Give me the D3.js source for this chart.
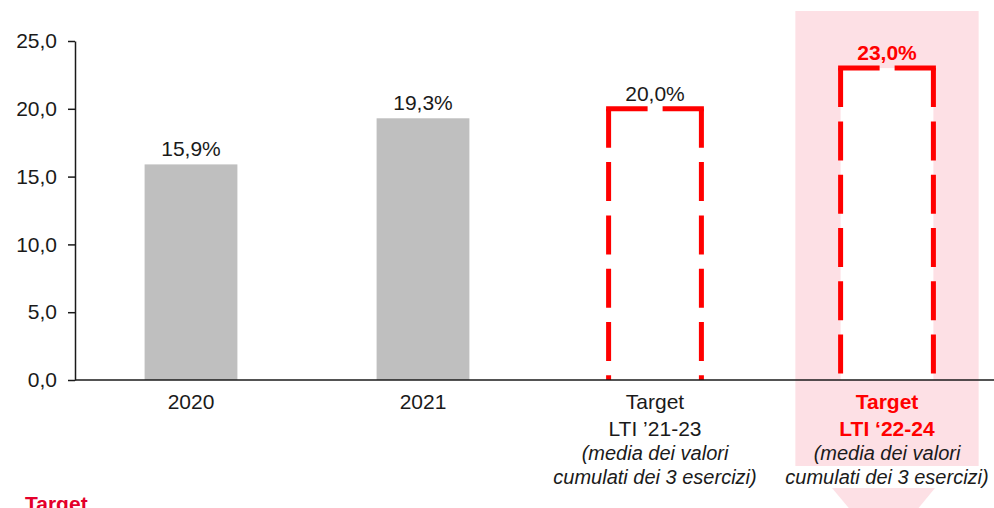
<!DOCTYPE html>
<html>
<head>
<meta charset="utf-8">
<script src="https://cdn.jsdelivr.net/npm/d3@7"></script>
<style>
  body { margin: 0; background: #fff; }
  svg { display: block; font-family: "Liberation Sans", Arial, sans-serif; }
</style>
</head>
<body>
<div id="chart"></div>
<script>
// data
const categories = ["2020", "2021", "target21", "target22"];
const values = [15.9, 19.3, 20.0, 23.0];
const isTarget = [false, false, true, true];
const labelMain = [["2020"], ["2021"], ["Target", "LTI \u201921-23"], ["Target", "LTI \u201822-24"]];
const labelNote = ["(media dei valori", "cumulati dei 3 esercizi)"];
const yTicks = [0, 5, 10, 15, 20, 25];

const width = 994, height = 508;
const red = "#ff0000";

const it = d3.formatLocale({decimal: ",", thousands: ".", grouping: [3], currency: ["€", ""]});
const fmt = it.format(".1f");

let svg = d3.select("#chart")
  .append("svg")
    .attr("width", width)
    .attr("height", height);

let x = d3.scaleBand()
  .domain(categories)
  .range([75, 1003])
  .paddingInner(0.6)
  .paddingOuter(0.3);

let y = d3.scaleLinear()
  .domain([0, 25])
  .range([380, 41]);

// pink highlight panel behind the last target
const hc = x(categories[3]) + x.bandwidth() / 2;
const hw = x.step() * 0.395;
svg.append("rect")
  .attr("x", hc - hw).attr("y", 11)
  .attr("width", hw * 2).attr("height", 455)
  .attr("fill", "#fde0e5");
svg.append("path")
  .attr("d", `M${hc - 55},488 L${hc + 48},488 L${hc - 3},550 Z`)
  .attr("fill", "#fde0e5");

// actual bars
svg.selectAll("rect.bar")
  .data(categories.filter((d, i) => !isTarget[i]))
  .enter()
  .append("rect")
    .attr("class", "bar")
    .attr("x", d => x(d))
    .attr("y", d => y(values[categories.indexOf(d)]))
    .attr("width", x.bandwidth())
    .attr("height", d => y(0) - y(values[categories.indexOf(d)]))
    .attr("fill", "#bfbfbf");

// target bars: white box with long-dash red outline (open at the bottom)
let targets = categories.filter((d, i) => isTarget[i]);
targets.forEach(d => {
  let v = values[categories.indexOf(d)];
  let x0 = x(d), x1 = x(d) + x.bandwidth(), top = y(v);
  svg.append("rect")
    .attr("x", x0).attr("y", top)
    .attr("width", x.bandwidth()).attr("height", y(0) - top)
    .attr("fill", "#fff");
  let g = svg.append("g")
    .attr("stroke", red)
    .attr("stroke-width", 5)
    .attr("fill", "none");
  [x0, x1].forEach(xx => {
    g.append("line")
      .attr("x1", xx).attr("x2", xx)
      .attr("y1", top).attr("y2", y(0))
      .attr("stroke-dasharray", "39,14.3");
  });
  // top edge also covers both corners
  g.append("line")
    .attr("x1", x0 - 2.5).attr("x2", x1 + 2.5)
    .attr("y1", top).attr("y2", top)
    .attr("stroke-dasharray", "41.5,15");
});

// axes
let yAxis = d3.axisLeft(y)
  .tickValues(yTicks)
  .tickFormat(fmt)
  .tickSize(7)
  .tickSizeOuter(0)
  .tickPadding(11);

let gy = svg.append("g")
  .attr("transform", "translate(75,0)")
  .call(yAxis);
gy.select(".domain").attr("stroke", "#1a1a1a").attr("stroke-width", 1.5);
gy.selectAll(".tick line").attr("stroke", "#1a1a1a").attr("stroke-width", 1.5);
gy.selectAll(".tick text")
  .attr("font-size", 21)
  .attr("font-family", "Liberation Sans, Arial, sans-serif")
  .attr("fill", "#1a1a1a");

svg.append("line")
  .attr("x1", 75).attr("x2", width)
  .attr("y1", y(0)).attr("y2", y(0))
  .attr("stroke", "#1a1a1a")
  .attr("stroke-width", 1.5);

// value labels
svg.selectAll("text.val")
  .data(categories)
  .enter()
  .append("text")
    .attr("class", "val")
    .attr("x", d => x(d) + x.bandwidth() / 2)
    .attr("y", (d, i) => y(values[i]) - 8)
    .attr("text-anchor", "middle")
    .attr("font-size", 21)
    .attr("font-weight", (d, i) => i === 3 ? "bold" : "normal")
    .attr("fill", (d, i) => i === 3 ? red : "#1a1a1a")
    .text((d, i) => fmt(values[i]) + "%");

// category labels
const lineY = [409, 436];
categories.forEach((d, i) => {
  let cx = x(d) + x.bandwidth() / 2;
  if (i === 3) {
    svg.append("rect")
      .attr("x", hc - hw).attr("y", 466)
      .attr("width", hw * 2).attr("height", 22)
      .attr("fill", "#fff");
  }
  labelMain[i].forEach((t, j) => {
    svg.append("text")
      .attr("x", cx).attr("y", lineY[j])
      .attr("text-anchor", "middle")
      .attr("font-size", 21)
      .attr("font-weight", i === 3 ? "bold" : "normal")
      .attr("fill", i === 3 ? red : "#1a1a1a")
      .text(t);
  });
  if (isTarget[i]) {
    labelNote.forEach((t, j) => {
      svg.append("text")
        .attr("x", cx).attr("y", 460 + j * 24)
        .attr("text-anchor", "middle")
        .attr("font-size", 20)
        .attr("font-style", "italic")
        .attr("fill", "#1a1a1a")
        .text(t);
    });
  }
});

// heading at the bottom left, cut off by the frame edge as in the reference
svg.append("text")
  .attr("x", 25).attr("y", 511)
  .attr("font-size", 21)
  .attr("font-weight", "bold")
  .attr("fill", "#e4002b")
  .text("Target");
</script>
</body>
</html>
